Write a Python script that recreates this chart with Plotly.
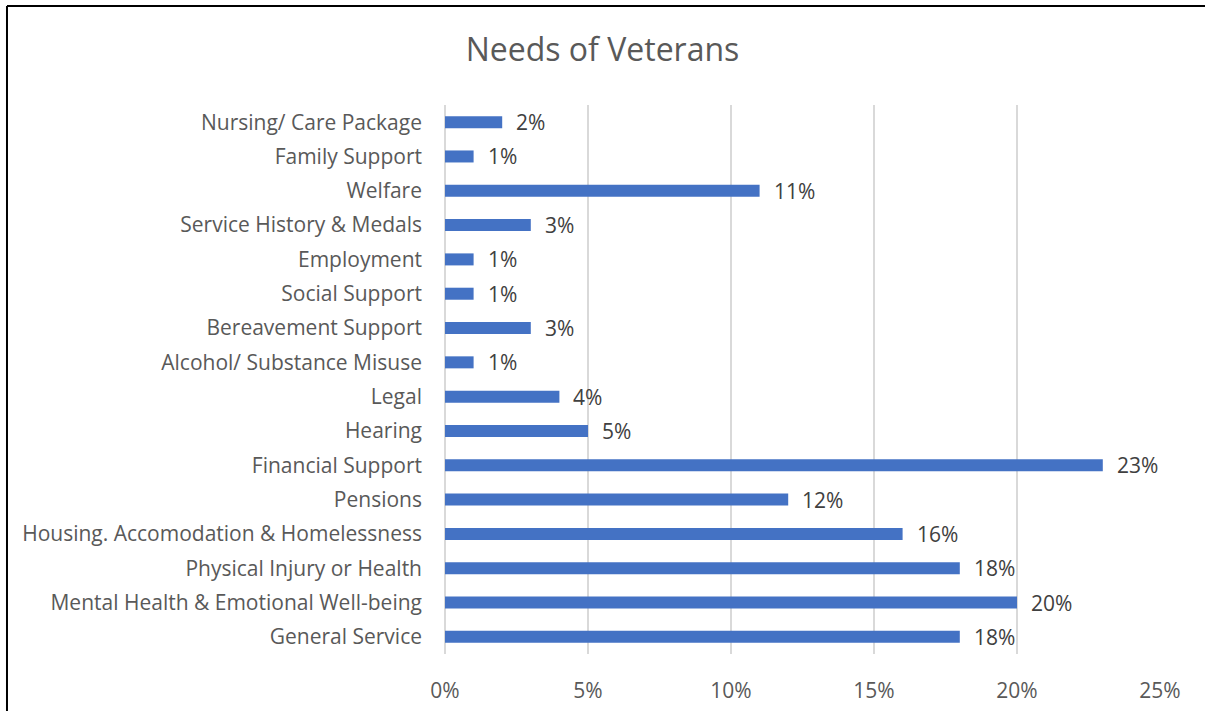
import plotly.graph_objects as go

# Categories listed top to bottom as they appear on the chart
categories = [
    "Nursing/ Care Package",
    "Family Support",
    "Welfare",
    "Service History & Medals",
    "Employment",
    "Social Support",
    "Bereavement Support",
    "Alcohol/ Substance Misuse",
    "Legal",
    "Hearing",
    "Financial Support",
    "Pensions",
    "Housing. Accomodation & Homelessness",
    "Physical Injury or Health",
    "Mental Health & Emotional Well-being",
    "General Service",
]
percent_values = [2, 1, 11, 3, 1, 1, 3, 1, 4, 5, 23, 12, 16, 18, 20, 18]
x_ticks = [0, 5, 10, 15, 20, 25]
x_tick_labels = [f"{t}%" for t in x_ticks]

FONT = "Open Sans"
BAR_COLOR = "#4472C4"
TEXT_SIZE = 21

fig = go.Figure()
fig.add_trace(go.Bar(
    y=categories,
    x=percent_values,
    orientation="h",
    marker=dict(color=BAR_COLOR, line=dict(width=0)),
    width=0.35,
    hoverinfo="x+y",
))

# Value labels placed just right of each bar end
for cat, val in zip(categories, percent_values):
    fig.add_annotation(
        x=val, y=cat, xref="x", yref="y",
        text=f"{val}%", showarrow=False,
        xanchor="left", yanchor="middle", xshift=12,
        font=dict(family=FONT, size=TEXT_SIZE, color="#404040"),
    )

# Outer chart border (top and left edges visible)
fig.add_shape(type="line", xref="paper", yref="paper",
              x0=-0.6126, x1=1.2, y0=1.1803, y1=1.1803,
              line=dict(color="black", width=2))
fig.add_shape(type="line", xref="paper", yref="paper",
              x0=-0.6126, x1=-0.6126, y0=1.1803, y1=-0.2,
              line=dict(color="black", width=2))

fig.update_layout(
    width=1205, height=711,
    margin=dict(l=445, r=45, t=105, b=57),
    paper_bgcolor="white", plot_bgcolor="white",
    showlegend=False,
    title=dict(text="Needs of Veterans", x=0.5, xref="container",
               y=1 - 50 / 711, yanchor="middle",
               font=dict(family=FONT, size=32, color="#595959")),
    xaxis=dict(
        range=[0, 25], tickvals=x_ticks, ticktext=x_tick_labels,
        showgrid=True, gridcolor="#D9D9D9", gridwidth=1.5,
        zeroline=True, zerolinecolor="#D9D9D9", zerolinewidth=1.5,
        showline=False, ticks="", ticklabelstandoff=22,
        tickfont=dict(family=FONT, size=TEXT_SIZE, color="#595959"),
        automargin=False, fixedrange=True,
    ),
    yaxis=dict(
        categoryorder="array", categoryarray=categories[::-1],
        showgrid=False, showline=False, ticks="", ticklabelstandoff=22,
        tickfont=dict(family=FONT, size=TEXT_SIZE, color="#595959"),
        automargin=False, fixedrange=True,
    ),
)

fig.write_html("out.html")
